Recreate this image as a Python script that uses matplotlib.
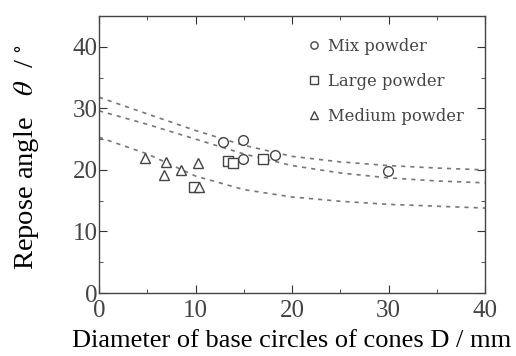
import matplotlib
matplotlib.use("Agg")
import matplotlib.pyplot as plt
from matplotlib.ticker import MultipleLocator

# measured points
mix_d = [12.8, 14.9, 14.9, 18.2, 29.9]
mix_theta = [24.5, 24.8, 21.8, 22.4, 19.9]

large_d = [9.8, 13.4, 13.85, 17.0]
large_theta = [17.2, 21.4, 21.2, 21.7]

medium_d = [4.8, 6.7, 6.9, 8.5, 10.3, 10.4]
medium_theta = [21.9, 19.2, 21.3, 20.0, 21.1, 17.2]

# dashed trend curves
curve_d = [0, 5, 10, 15, 20, 25, 30, 35, 40]
curve_top = [31.8, 29.1, 26.4, 24.0, 22.2, 21.3, 20.7, 20.3, 20.0]
curve_mid = [29.6, 27.4, 25.0, 22.6, 20.7, 19.5, 18.7, 18.2, 17.9]
curve_low = [25.3, 22.6, 19.0, 16.8, 15.6, 14.9, 14.4, 14.1, 13.8]

plt.rcParams["font.family"] = ["Liberation Serif", "DejaVu Serif"]
plt.rcParams["mathtext.fontset"] = "stix"

fig = plt.figure(figsize=(5.16, 3.56), dpi=100)
ax = fig.add_axes([99 / 516, 1 - 293 / 356, 386 / 516, 277 / 356])

dash = dict(color="#777777", lw=1.2, ls=(0, (2.5, 3)))
for c in (curve_top, curve_mid, curve_low):
    ax.plot(curve_d, c, **dash)

mk = dict(ls="none", mfc="white", mec="#444444", mew=1.0, ms=7)
ax.plot(mix_d, mix_theta, marker="o", label="Mix powder", **mk)
ax.plot(large_d, large_theta, marker="s", label="Large powder", **mk)
ax.plot(medium_d, medium_theta, marker="^", label="Medium powder", **mk)

ax.set_xlim(0, 40)
ax.set_ylim(0, 45)
ax.xaxis.set_major_locator(MultipleLocator(10))
ax.xaxis.set_minor_locator(MultipleLocator(5))
ax.yaxis.set_major_locator(MultipleLocator(10))
ax.yaxis.set_minor_locator(MultipleLocator(5))
ax.tick_params(which="both", direction="in", top=True, right=True,
               color="#333333", labelsize=18, labelcolor="#444444")
ax.tick_params(which="major", length=6)
ax.tick_params(which="minor", length=3)
ax.tick_params(axis="x", pad=5)
ax.tick_params(axis="y", pad=1)
for s in ax.spines.values():
    s.set_color("#444444")
    s.set_linewidth(1.0)

ax.set_xlabel("Diameter of base circles of cones D / mm", fontsize=19, labelpad=6)
ax.set_ylabel(r"Repose angle   $\theta$  / $^{\circ}$", fontsize=20.5)
ax.yaxis.set_label_coords(-0.15, 0.49)

leg = ax.legend(loc="upper left", bbox_to_anchor=(0.545, 0.92), frameon=False,
                prop={"family": "DejaVu Serif", "size": 11.8},
                borderaxespad=0, borderpad=0,
                handlelength=0.6, handletextpad=0.55,
                labelspacing=1.08, markerscale=0.75)
for t in leg.get_texts():
    t.set_color("#444444")

fig.savefig("out.png", dpi=100)
